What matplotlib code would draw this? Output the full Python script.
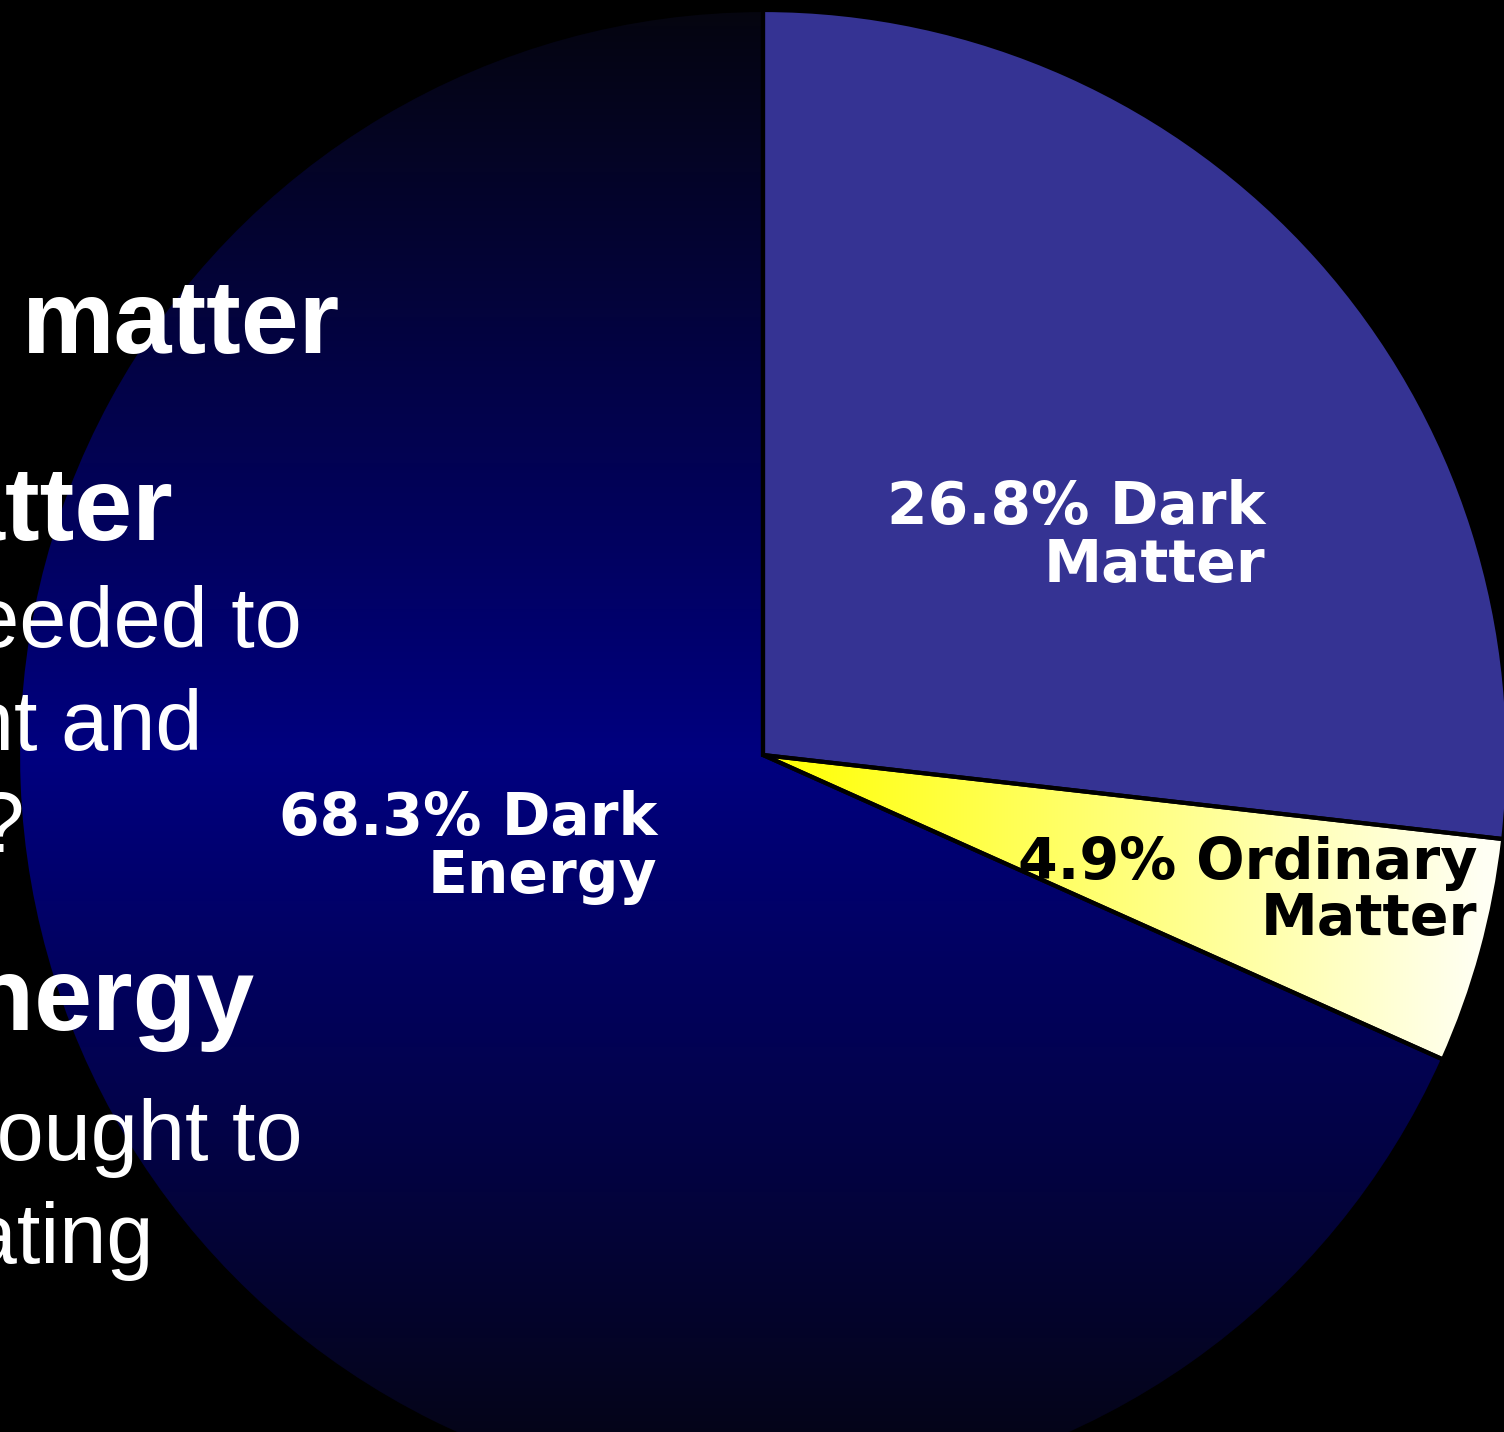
import numpy as np
import matplotlib
matplotlib.use("Agg")
import matplotlib.pyplot as plt

# energy budget of the universe, percent
components = ["Dark Matter", "Ordinary Matter", "Dark Energy"]
shares = [26.8, 4.9, 68.3]
slice_labels = ["26.8% Dark\nMatter", "4.9% Ordinary\nMatter", "68.3% Dark\nEnergy"]

# slide text behind the pie, only the line endings are in frame
side_lines = ["matter", "Dark matter", "needed to", "light and",
              "matter?", "Dark energy", "thought to", "accelerating"]
side_bold = [True, True, False, False, False, True, False, False]

W, H = 1504, 1432
CX, CY, R = 763, 755, 745  # pie centre / radius in pixels


def to_data(px, py):
    return (px - CX) / R, (CY - py) / R


fig = plt.figure(figsize=(W / 100, H / 100), dpi=100, facecolor="black")
ax = fig.add_axes([0, 0, 1, 1])
ax.set_facecolor("black")

wedges, _ = ax.pie(shares, startangle=90, counterclock=False, radius=1,
                   colors=["#353393", "#ffff00", "#000080"],
                   wedgeprops=dict(edgecolor="black", linewidth=3))

# dark energy: navy in the middle fading to black at top and bottom
ys = np.linspace(1, -1, 600)
t = 1 - np.abs(ys)
edge = np.array([0.02, 0.02, 0.06])
mid = np.array([0.0, 0.0, 0.5])
grad = edge + (mid - edge) * t[:, None]
img = ax.imshow(grad[:, None, :], extent=(-1, 1, -1, 1), aspect="auto",
                interpolation="bilinear", zorder=0.5)
img.set_clip_path(wedges[2])
wedges[2].set_facecolor("none")

# ordinary matter: yellow at the centre to almost white at the rim
xs = np.linspace(0, 1, 600)
yel = np.ones((1, xs.size, 3))
yel[0, :, 2] = np.clip(xs / 0.97, 0, 1) * 0.96
img2 = ax.imshow(yel, extent=(0, 1, -1, 1), aspect="auto",
                 interpolation="bilinear", zorder=0.5)
img2.set_clip_path(wedges[1])
wedges[1].set_facecolor("none")

ax.set_xlim(-CX / R, (W - CX) / R)
ax.set_ylim(-(H - CY) / R, CY / R)
ax.set_aspect("auto")
ax.axis("off")

# slice labels (right aligned, anchored on the last line's baseline)
label_px = [(1265, 582), (1477, 935), (657, 893)]
label_col = ["white", "black", "white"]
label_size = [42, 41, 42]
for txt, (px, py), c, s in zip(slice_labels, label_px, label_col, label_size):
    x, y = to_data(px, py)
    ax.text(x, y, txt, ha="right", va="baseline", color=c, fontsize=s,
            fontweight="bold", linespacing=1.02, zorder=5)

# slide text on the left edge
side_px = [(340, 353), (173, 540), (302, 647), (202, 750),
           (25, 852), (254, 1030), (302, 1160), (154, 1263)]
for txt, bold, (px, py) in zip(side_lines, side_bold, side_px):
    fig.text(px / W, 1 - py / H, txt, ha="right", va="baseline",
             color="white", family="Liberation Sans",
             fontsize=75 if bold else 61,
             fontweight="bold" if bold else "normal", zorder=6)

fig.savefig("out.png", dpi=100, facecolor="black")
